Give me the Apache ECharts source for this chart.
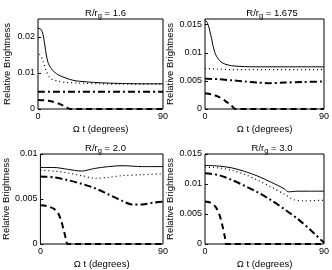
<!DOCTYPE html>
<html>
<head>
<meta charset="utf-8">
<script src="https://cdn.jsdelivr.net/npm/echarts@6/dist/echarts.min.js"></script>
<style>
html,body{margin:0;padding:0;background:#fff;}
#c{width:332px;height:270px;}
</style>
</head>
<body>
<div id="c"></div>
<script>
// Panel titles (R/r_g values)
const panelValues = ['1.6', '1.675', '2.0', '3.0'];
const xTicks = [0, 90];
const yMax = [0.025, 0.016, 0.01, 0.015];
const yStep = [0.01, 0.005, 0.005, 0.005];

// Panel 1: R/rg = 1.6
const p1Solid = [[0,0.0225],[2,0.0222],[3,0.0215],[4,0.0200],[5,0.0175],[6,0.0150],[7,0.0132],[8,0.0122],[10,0.0110],[12,0.0102],[15,0.0094],[20,0.0086],[25,0.0080],[30,0.0077],[40,0.0074],[50,0.0072],[60,0.0071],[75,0.0070],[90,0.0070]];
const p1Dotted = [[1,0.0152],[2,0.0148],[4,0.0128],[6,0.0105],[8,0.0090],[10,0.0083],[15,0.0077],[20,0.0074],[30,0.0072],[45,0.0070],[60,0.0069],[90,0.0069]];
const p1DashDot = [[0,0.0048],[30,0.0048],[60,0.0048],[90,0.0048]];
const p1Dashed = [[0,0.0025],[5,0.0024],[10,0.0021],[15,0.0015],[20,0.0006],[23,0],[90,0]];

// Panel 2: R/rg = 1.675
const p2Solid = [[0,0.0157],[1,0.0156],[2,0.0152],[3,0.0145],[4,0.0135],[5,0.0125],[6,0.0113],[7,0.0104],[8,0.0097],[10,0.0089],[12,0.0084],[15,0.0080],[20,0.0077],[25,0.0076],[35,0.0075],[90,0.0075]];
const p2Dotted = [[0,0.0072],[10,0.0071],[20,0.0070],[90,0.0070]];
const p2DashDot = [[0,0.0054],[10,0.0053],[20,0.0051],[30,0.0049],[40,0.0047],[50,0.0046],[60,0.0047],[75,0.0048],[90,0.0049]];
const p2Dashed = [[0,0.0028],[5,0.0026],[10,0.0022],[15,0.0015],[20,0.0006],[23,0],[90,0]];

// Panel 3: R/rg = 2.0
const p3Solid = [[0,0.0085],[10,0.0085],[20,0.0083],[30,0.0081],[40,0.0084],[50,0.0086],[60,0.0087],[75,0.0086],[90,0.0086]];
const p3Dotted = [[0,0.0082],[10,0.0081],[20,0.0079],[30,0.0076],[40,0.0073],[50,0.0074],[60,0.0076],[75,0.0077],[90,0.0078]];
const p3DashDot = [[0,0.0075],[10,0.0074],[20,0.0071],[30,0.0067],[40,0.0062],[50,0.0055],[60,0.0048],[67,0.0044],[75,0.0044],[83,0.0046],[90,0.0047]];
const p3Dashed = [[0,0.0043],[5,0.0042],[10,0.0039],[13,0.0034],[15,0.0027],[17,0.0016],[19,0.0004],[20,0],[90,0]];

// Panel 4: R/rg = 3.0
const p4Solid = [[0,0.0131],[10,0.0130],[20,0.0127],[30,0.0121],[40,0.0113],[50,0.0103],[60,0.0092],[63,0.0087],[70,0.0088],[90,0.0088]];
const p4Dotted = [[0,0.0128],[10,0.0127],[20,0.0123],[30,0.0116],[40,0.0106],[50,0.0095],[60,0.0083],[67,0.0074],[75,0.0072],[90,0.0073]];
const p4DashDot = [[0,0.0118],[10,0.0115],[20,0.0107],[30,0.0097],[40,0.0086],[50,0.0073],[60,0.0058],[70,0.0042],[80,0.0023],[90,0.0002]];
const p4Dashed = [[0,0.0071],[4,0.0069],[8,0.0062],[11,0.0048],[13,0.0032],[15,0.0012],[16,0],[90,0]];

const panelData = [
  [p1Solid, p1Dotted, p1DashDot, p1Dashed],
  [p2Solid, p2Dotted, p2DashDot, p2Dashed],
  [p3Solid, p3Dotted, p3DashDot, p3Dashed],
  [p4Solid, p4Dotted, p4DashDot, p4Dashed]
];

const FONT = 'Liberation Sans, Arial, sans-serif';
const grids = [
  {left: 38, top: 19, width: 125, height: 90},
  {left: 205, top: 19, width: 124, height: 90},
  {left: 38, top: 154, width: 125, height: 90},
  {left: 205, top: 154, width: 124, height: 90}
];
const styles = [
  {type: 'solid', width: 1},
  {type: [1, 3], width: 1.2},
  {type: [7, 3, 2, 3], width: 2},
  {type: [6, 4], width: 2}
];

const fmt = v => v === 0 ? '0' : String(+v.toFixed(4));

const option = {
  animation: false,
  backgroundColor: '#fff',
  title: grids.map((g, i) => ({
    text: '{a|R/r}{s|g}{a| = ' + panelValues[i] + '}',
    left: g.left + g.width / 2,
    textAlign: 'center',
    top: g.top - 18,
    textStyle: {
      fontWeight: 'normal',
      rich: {
        a: {fontFamily: FONT, fontSize: 9.5, fontWeight: 'normal', color: '#000'},
        s: {fontFamily: FONT, fontSize: 7.5, fontWeight: 'normal', color: '#000', verticalAlign: 'bottom', padding: [6, 0, 0, 0]}
      }
    }
  })),
  grid: grids.map(g => Object.assign({show: true, borderColor: '#000', borderWidth: 1, backgroundColor: 'transparent'}, g)),
  xAxis: grids.map((g, i) => ({
    type: 'value', gridIndex: i, min: xTicks[0], max: xTicks[1], interval: xTicks[1] - xTicks[0],
    name: 'Ω t (degrees)', nameLocation: 'middle', nameGap: 15,
    nameTextStyle: {fontFamily: FONT, fontSize: 9.5, color: '#000'},
    axisLine: {show: false},
    axisTick: {show: false},
    splitLine: {show: false},
    axisLabel: {fontFamily: FONT, fontSize: 9, color: '#000', margin: 3}
  })),
  yAxis: grids.map((g, i) => ({
    type: 'value', gridIndex: i, min: 0, max: yMax[i], interval: yStep[i],
    name: 'Relative Brightness', nameLocation: 'middle', nameGap: 26,
    nameTextStyle: {fontFamily: FONT, fontSize: 9.5, color: '#000'},
    axisLine: {show: false},
    axisTick: {show: true, inside: true, length: 3, lineStyle: {color: '#000'}},
    splitLine: {show: false},
    axisLabel: {fontFamily: FONT, fontSize: 9, color: '#000', margin: 3, formatter: fmt, showMaxLabel: (yMax[i] % yStep[i] < 1e-9 || yStep[i] - (yMax[i] % yStep[i]) < 1e-9) ? true : false}
  })),
  series: []
};

panelData.forEach((arrs, i) => {
  arrs.forEach((d, j) => {
    option.series.push({
      type: 'line', xAxisIndex: i, yAxisIndex: i, data: d,
      showSymbol: false, smooth: 0.3, clip: true,
      lineStyle: {color: '#000', width: styles[j].width, type: styles[j].type}
    });
  });
});

const chart = echarts.init(document.getElementById('c'), null, {renderer: 'canvas'});
chart.setOption(option);
</script>
</body>
</html>
